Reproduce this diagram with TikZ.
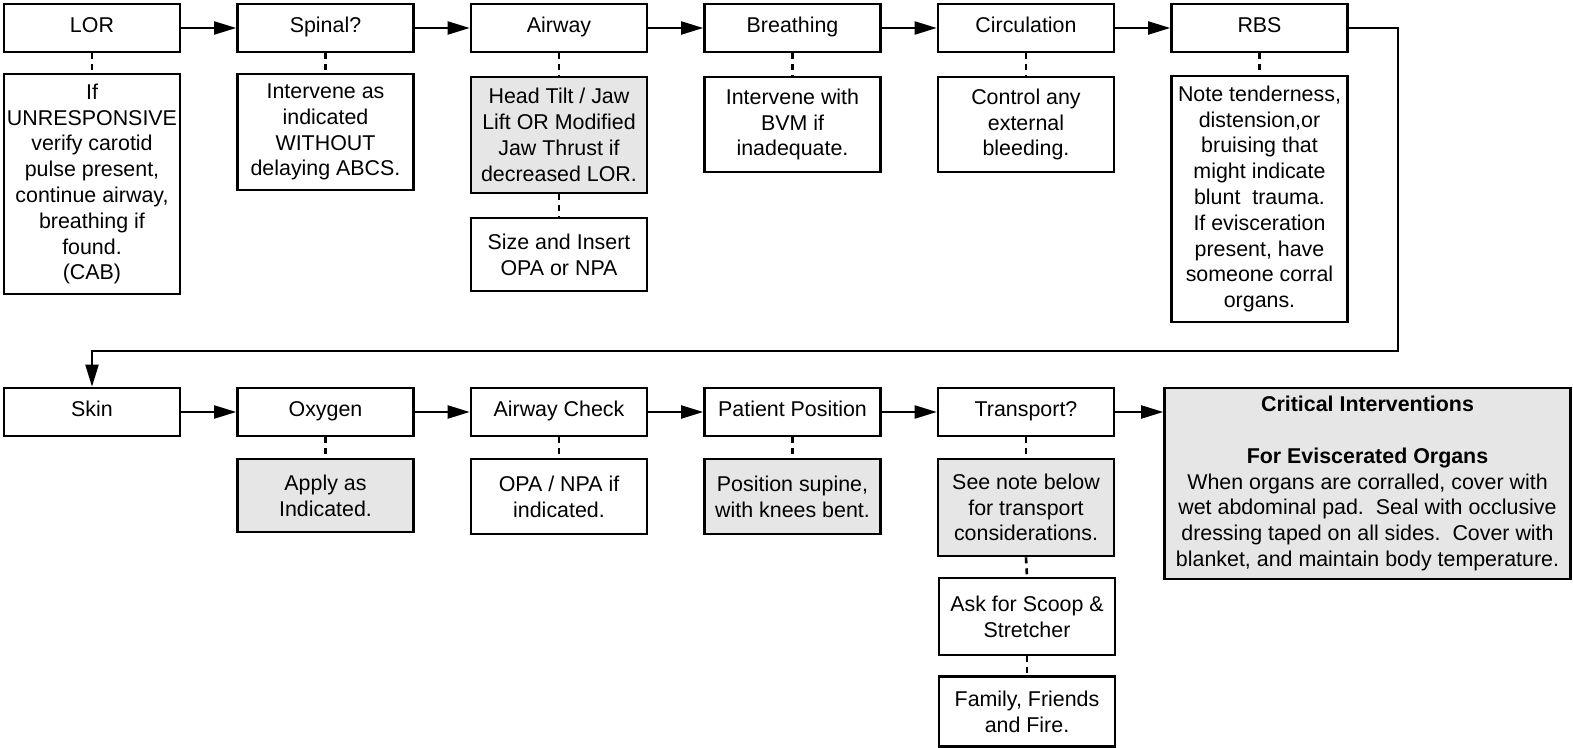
\documentclass[tikz,border=0pt]{standalone}
\usepackage{fontspec}
\setmainfont{Liberation Sans}
\usetikzlibrary{arrows.meta}
\definecolor{notegray}{RGB}{230,230,230}
\begin{document}
\begin{tikzpicture}[x=0.5pt,y=-0.5pt,
  box/.style={draw=black, line width=1.3pt, align=center, inner sep=0pt,
    minimum width=88pt, font=\fontsize{10.7pt}{12.9pt}\selectfont},
  stephead/.style={box, minimum height=24pt, text height=7.9pt, text depth=3pt},
  grayfill/.style={fill=notegray},
  flow/.style={line width=1pt, -{Triangle[length=11pt,width=6.5pt]}},
  link/.style={line width=1.3pt, dash pattern=on 3pt off 2.5pt},
]
\useasboundingbox (0,0) rectangle (1573,748);

% ---- first row: assessment steps ----
\node[stephead] (lor)  at (92,28)     {LOR};
\node[stephead] (spin) at (325.5,28)  {Spinal?};
\node[stephead] (air)  at (559,28)    {Airway};
\node[stephead] (brth) at (792.5,28)  {Breathing};
\node[stephead] (circ) at (1026,28)   {Circulation};
\node[stephead] (rbs)  at (1259.5,28) {RBS};

% ---- first row: notes ----
\node[box, minimum height=110pt] (lorN) at (92,184)
  {If\\UNRESPONSIVE\\verify carotid\\pulse present,\\continue airway,\\breathing if\\found.\\(CAB)};
\node[box, minimum height=58pt] (spinN) at (325.5,132)
  {Intervene as\\indicated\\WITHOUT\\delaying ABCS.};
\node[box, grayfill, minimum height=58pt] (airN) at (559,135)
  {Head Tilt / Jaw\\Lift OR Modified\\Jaw Thrust if\\decreased LOR.};
\node[box, minimum height=36.5pt] (airN2) at (559,254.5)
  {Size and Insert\\OPA or NPA};
\node[box, minimum height=47.5pt] (brthN) at (792.5,124.5)
  {Intervene with\\BVM if\\inadequate.};
\node[box, minimum height=47.5pt] (circN) at (1026,124.5)
  {Control any\\external\\bleeding.};
\node[box, minimum height=123pt] (rbsN) at (1259.5,199)
  {Note tenderness,\\distension,or\\bruising that\\might indicate\\blunt\ \ trauma.\\If evisceration\\present, have\\someone corral\\organs.};

% ---- second row: steps ----
\node[stephead] (skin) at (92,412)     {Skin};
\node[stephead] (oxy)  at (325.5,412)  {Oxygen};
\node[stephead] (airc) at (559,412)    {Airway Check};
\node[stephead] (pos)  at (792.5,412)  {Patient Position};
\node[stephead] (trn)  at (1026,412)   {Transport?};
\node[box, grayfill, minimum width=203pt, minimum height=95.5pt] (crit) at (1367.5,483.5)
  {\textbf{Critical Interventions}\\[12.9pt]\textbf{For Eviscerated Organs}\\When organs are corralled, cover with\\wet abdominal pad.\ \ Seal with occlusive\\dressing taped on all sides.\ \ Cover with\\blanket, and maintain body temperature.};

% ---- second row: notes ----
\node[box, grayfill, minimum height=36.5pt] (oxyN) at (325.5,495.5)
  {Apply as\\Indicated.};
\node[box, minimum height=37.5pt] (aircN) at (559,496.5)
  {OPA / NPA if\\indicated.};
\node[box, grayfill, minimum height=37.5pt] (posN) at (792.5,496.5)
  {Position supine,\\with knees bent.};
\node[box, grayfill, minimum height=48.5pt] (trnN) at (1026,507.5)
  {See note below\\for transport\\considerations.};
\node[box, minimum height=38.5pt] (trnN2) at (1027,616.5)
  {Ask for Scoop \&\\Stretcher};
\node[box, minimum height=35pt] (trnN3) at (1027,711.5)
  {Family, Friends\\and Fire.};

% ---- main flow ----
\draw[flow] (lor) -- (spin);
\draw[flow] (spin) -- (air);
\draw[flow] (air) -- (brth);
\draw[flow] (brth) -- (circ);
\draw[flow] (circ) -- (rbs);
\coordinate (loopR) at (1398,351);
\coordinate (loopL) at (92,351);
\draw[flow] (rbs.east) -| (loopR) -- (loopL) -- (skin.north);
\draw[flow] (skin) -- (oxy);
\draw[flow] (oxy) -- (airc);
\draw[flow] (airc) -- (pos);
\draw[flow] (pos) -- (trn);
\draw[flow] (trn.east) -- (trn.east -| crit.west);

% ---- dashed links to notes ----
\draw[link] (lor.south) -- (lorN.north);
\draw[link] (spin.south) -- (spinN.north);
\draw[link] (air.south) -- (airN.north);
\draw[link] (airN.south) -- (airN2.north);
\draw[link] (brth.south) -- (brthN.north);
\draw[link] (circ.south) -- (circN.north);
\draw[link] (rbs.south) -- (rbsN.north);
\draw[link] (oxy.south) -- (oxyN.north);
\draw[link] (airc.south) -- (aircN.north);
\draw[link] (pos.south) -- (posN.north);
\draw[link] (trn.south) -- (trnN.north);
\draw[link] (trnN.south) -- (trnN2.north);
\draw[link] (trnN2.south) -- (trnN3.north);
\end{tikzpicture}
\end{document}
